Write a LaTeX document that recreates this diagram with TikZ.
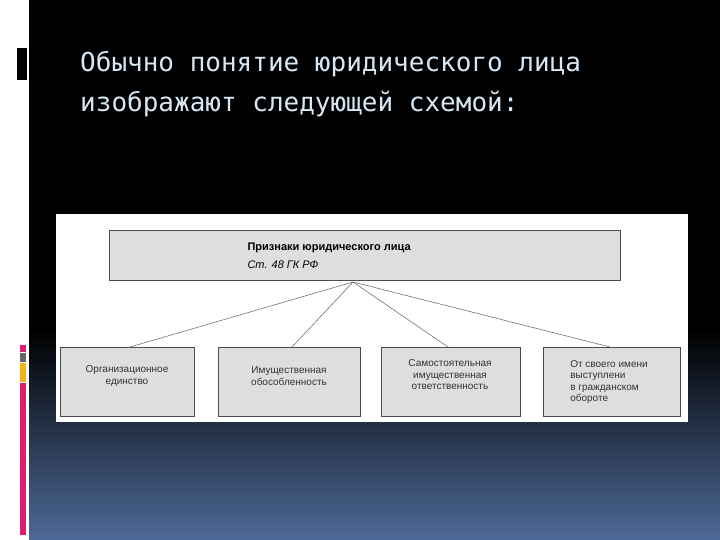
\documentclass[tikz,border=0pt]{standalone}
\usepackage{fontspec}
\setmainfont{Liberation Sans}
\newfontfamily\titlefont{DejaVu Sans Mono}
\definecolor{pinkbar}{RGB}{220,30,110}
\definecolor{yellowbar}{RGB}{240,180,20}
\definecolor{bluebot}{RGB}{78,106,152}
\definecolor{titlecol}{RGB}{215,232,245}
\begin{document}
\begin{tikzpicture}[x=1pt,y=-1pt,
  box/.style={draw=black!70,fill=black!13,line width=0.6pt},
  lbl/.style={font=\fontsize{10}{11.5}\selectfont,align=center,text=black!80},
  conn/.style={draw=black!55,line width=0.6pt}]
\useasboundingbox (0,0) rectangle (720,540);
\fill[white] (0,0) rectangle (720,540);
\fill[black] (29,0) rectangle (720,330);
\shade[top color=black,bottom color=bluebot] (29,330) rectangle (720,540);
\fill[black] (17,48) rectangle (27,80);
\fill[pinkbar] (20,345) rectangle (26,352);
\fill[black!60] (20,353) rectangle (26,362);
\fill[yellowbar] (20,363) rectangle (26,382);
\fill[pinkbar] (20,383) rectangle (26,535);
\node[anchor=west,text=titlecol,font=\titlefont\fontsize{26}{40}\selectfont,align=left,inner sep=0] (title) at (80,84) {Обычно понятие юридического лица\\изображают следующей схемой:};
\fill[white] (56,214) rectangle (688,422);
\draw[box] (109,230) rectangle (620,280);
\node[font=\bfseries\fontsize{11}{13}\selectfont,anchor=west] (t1) at (244,248) {Признаки юридического лица};
\node[font=\itshape\fontsize{11}{13}\selectfont,anchor=west] (t2) at (244,265) {Ст. 48 ГК РФ};
\coordinate (apex) at (353,282);
\draw[box] (60,347) rectangle (194,416);
\draw[box] (218,347) rectangle (360,416);
\draw[box] (381,347) rectangle (520,416);
\draw[box] (543,347) rectangle (680,416);
\node[lbl] (b1) at (127,376) {Организационное\\единство};
\node[lbl] (b2) at (289,376) {Имущественная\\обособленность};
\node[lbl] (b3) at (450,375) {Самостоятельная\\имущественная\\ответственность};
\node[lbl,align=left] (b4) at (609,382) {От своего имени\\выступлени\\в гражданском\\обороте};
\coordinate (e1) at (130,347);
\coordinate (e2) at (292,347);
\coordinate (e3) at (448,347);
\coordinate (e4) at (610,347);
\foreach \e in {e1,e2,e3,e4} \draw[conn] (apex) -- (\e);
\end{tikzpicture}
\end{document}
